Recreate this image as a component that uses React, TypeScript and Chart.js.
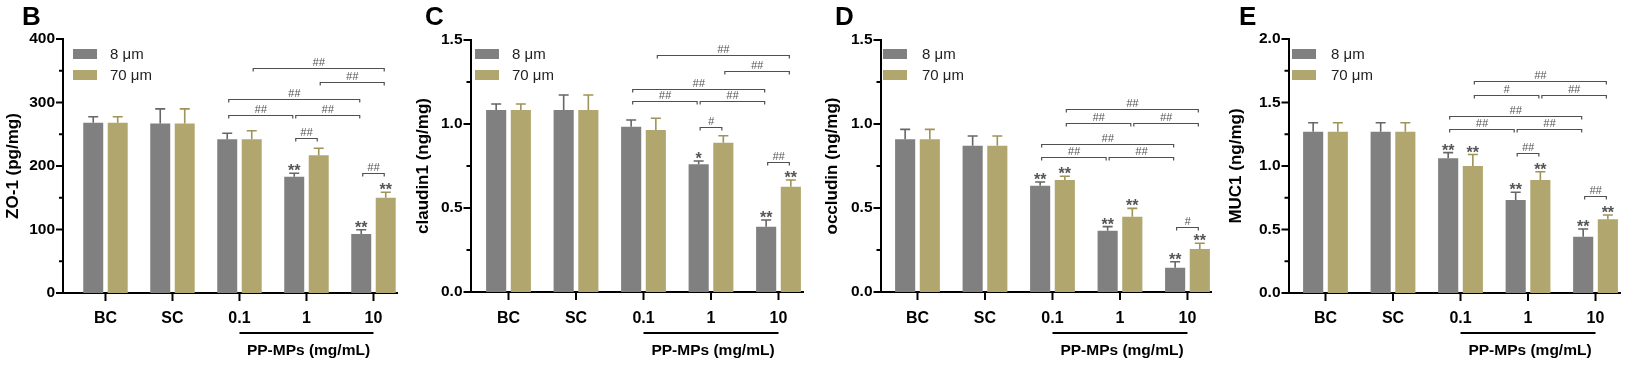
import React, { useEffect, useRef } from 'react';
import { Chart, registerables } from 'chart.js';

Chart.register(...registerables);
Chart.defaults.font.family = "'Liberation Sans', Arial, sans-serif";

// ---------- data ----------
const categories = ['BC', 'SC', '0.1', '1', '10'];
const seriesNames = ['8 μm', '70 μm'];
const groupTitle = 'PP-MPs (mg/mL)';

// Panel B – ZO-1 (pg/mg)
const zo1_8um = [268, 267, 242, 183, 93];
const zo1_8umErr = [9.6, 23, 9.5, 5.5, 6.5];
const zo1_70um = [268, 267, 242, 217, 150];
const zo1_70umErr = [9.6, 23, 13.6, 11, 8.6];
const zo1Stars8um = ['', '', '', '**', '**'];
const zo1Stars70um = ['', '', '', '', '**'];
// [categoryA, seriesA, categoryB, seriesB, level, label]
const zo1Brackets: [number, number, number, number, number, string][] = [
  [2, 1, 4, 1, 355, '##'],
  [3, 1, 4, 1, 333, '##'],
  [2, 0, 4, 0, 305.5, '##'],
  [2, 0, 3, 0, 281, '##'],
  [3, 0, 4, 0, 281, '##'],
  [3, 0, 3, 1, 243.6, '##'],
  [4, 0, 4, 1, 188.5, '##'],
];

// Panel C – claudin1 (ng/mg)
const cld_8um = [1.083, 1.083, 0.984, 0.76, 0.389];
const cld_8umErr = [0.036, 0.09, 0.04, 0.02, 0.04];
const cld_70um = [1.083, 1.083, 0.964, 0.889, 0.627];
const cld_70umErr = [0.036, 0.09, 0.07, 0.041, 0.04];
const cldStars8um = ['', '', '', '*', '**'];
const cldStars70um = ['', '', '', '', '**'];
const cldBrackets: [number, number, number, number, number, string][] = [
  [2, 1, 4, 1, 1.411, '##'],
  [3, 1, 4, 1, 1.315, '##'],
  [2, 0, 4, 0, 1.208, '##'],
  [2, 0, 3, 0, 1.137, '##'],
  [3, 0, 4, 0, 1.137, '##'],
  [3, 0, 3, 1, 0.984, '#'],
  [4, 0, 4, 1, 0.776, '##'],
];

// Panel D – occludin (ng/mg)
const occ_8um = [0.909, 0.871, 0.633, 0.365, 0.145];
const occ_8umErr = [0.059, 0.058, 0.022, 0.024, 0.035];
const occ_70um = [0.909, 0.871, 0.667, 0.448, 0.256];
const occ_70umErr = [0.059, 0.058, 0.022, 0.05, 0.034];
const occStars8um = ['', '', '**', '**', '**'];
const occStars70um = ['', '', '**', '**', '**'];
const occBrackets: [number, number, number, number, number, string][] = [
  [2, 1, 4, 1, 1.089, '##'],
  [2, 1, 3, 1, 1.008, '##'],
  [3, 1, 4, 1, 1.008, '##'],
  [2, 0, 4, 0, 0.881, '##'],
  [2, 0, 3, 0, 0.806, '##'],
  [3, 0, 4, 0, 0.806, '##'],
  [4, 0, 4, 1, 0.389, '#'],
];

// Panel E – MUC1 (ng/mg)
const muc_8um = [1.27, 1.27, 1.061, 0.732, 0.443];
const muc_8umErr = [0.071, 0.071, 0.044, 0.061, 0.061];
const muc_70um = [1.27, 1.27, 1.0, 0.89, 0.58];
const muc_70umErr = [0.071, 0.071, 0.09, 0.065, 0.034];
const mucStars8um = ['', '', '**', '**', '**'];
const mucStars70um = ['', '', '**', '**', '**'];
const mucBrackets: [number, number, number, number, number, string][] = [
  [2, 1, 4, 1, 1.669, '##'],
  [2, 1, 3, 1, 1.559, '#'],
  [3, 1, 4, 1, 1.559, '##'],
  [2, 0, 4, 0, 1.394, '##'],
  [2, 0, 3, 0, 1.291, '##'],
  [3, 0, 4, 0, 1.291, '##'],
  [3, 0, 3, 1, 1.105, '##'],
  [4, 0, 4, 1, 0.764, '##'],
];

// ---------- panels ----------
const panels = [
  { letter: 'B', yTitle: 'ZO-1 (pg/mg)', yMax: 400, yStep: 100, decimals: 0,
    values: [zo1_8um, zo1_70um], errs: [zo1_8umErr, zo1_70umErr], stars: [zo1Stars8um, zo1Stars70um], brackets: zo1Brackets },
  { letter: 'C', yTitle: 'claudin1 (ng/mg)', yMax: 1.5, yStep: 0.5, decimals: 1,
    values: [cld_8um, cld_70um], errs: [cld_8umErr, cld_70umErr], stars: [cldStars8um, cldStars70um], brackets: cldBrackets },
  { letter: 'D', yTitle: 'occludin (ng/mg)', yMax: 1.5, yStep: 0.5, decimals: 1,
    values: [occ_8um, occ_70um], errs: [occ_8umErr, occ_70umErr], stars: [occStars8um, occStars70um], brackets: occBrackets },
  { letter: 'E', yTitle: 'MUC1 (ng/mg)', yMax: 2.0, yStep: 0.5, decimals: 1,
    values: [muc_8um, muc_70um], errs: [muc_8umErr, muc_70umErr], stars: [mucStars8um, mucStars70um], brackets: mucBrackets },
];

// ---------- layout / style ----------
const H = 366;
const layouts = [
  { left: 0, width: 410, axisX: 63, endX: 397, top: 39, bottom: 293, titleX: 13, letterX: 22, legendX: 73, legendTextX: 110, xMin: -0.634, xMax: 4.351 },
  { left: 410, width: 410, axisX: 60.5, endX: 393, top: 40, bottom: 292, titleX: 13, letterX: 15, legendX: 65, legendTextX: 102, xMin: -0.563, xMax: 4.363 },
  { left: 820, width: 410, axisX: 60.5, endX: 391.5, top: 40, bottom: 292, titleX: 12, letterX: 15, legendX: 63, legendTextX: 102, xMin: -0.548, xMax: 4.356 },
  { left: 1224, width: 410, axisX: 64.5, endX: 396.5, top: 39, bottom: 293, titleX: 12, letterX: 15, legendX: 68, legendTextX: 107, xMin: -0.548, xMax: 4.37 },
];
const barColors = ['#808080', '#b0a66e'];
const errColors = ['#666666', '#9e9359'];
const FONT = "'Liberation Sans', Arial, sans-serif";

function makeExtras(p: any, L: any) {
  return {
    id: 'extras' + p.letter,
    afterDatasetsDraw(chart: any) {
      const ctx = chart.ctx;
      const ys = chart.scales.y;
      ctx.save();
      // error bars + stars
      for (let d = 0; d < 2; d++) {
        const meta = chart.getDatasetMeta(d);
        meta.data.forEach((bar: any, i: number) => {
          const v = p.values[d][i];
          const e = p.errs[d][i];
          const yTop = ys.getPixelForValue(v);
          const yCap = ys.getPixelForValue(v + e);
          ctx.strokeStyle = errColors[d];
          ctx.lineWidth = 1.6;
          ctx.beginPath();
          ctx.moveTo(bar.x, yTop);
          ctx.lineTo(bar.x, yCap);
          ctx.moveTo(bar.x - 5, yCap);
          ctx.lineTo(bar.x + 5, yCap);
          ctx.stroke();
          const s = p.stars[d][i];
          if (s) {
            ctx.fillStyle = '#555';
            ctx.font = `bold 16px ${FONT}`;
            ctx.textAlign = 'center';
            ctx.textBaseline = 'alphabetic';
            ctx.fillText(s, bar.x, yCap + 3);
          }
        });
      }
      // significance brackets
      p.brackets.forEach((b: any) => {
        const [ca, sa, cb, sb, level, label] = b;
        const xa = chart.getDatasetMeta(sa).data[ca].x + 1.5;
        const xb = chart.getDatasetMeta(sb).data[cb].x - 1.5;
        const y = Math.round(ys.getPixelForValue(level)) + 0.5;
        ctx.strokeStyle = '#505050';
        ctx.lineWidth = 1.2;
        ctx.beginPath();
        ctx.moveTo(xa, y + 3);
        ctx.lineTo(xa, y);
        ctx.lineTo(xb, y);
        ctx.lineTo(xb, y + 3);
        ctx.stroke();
        ctx.fillStyle = '#555';
        ctx.font = `italic 11px ${FONT}`;
        ctx.textAlign = 'center';
        ctx.textBaseline = 'alphabetic';
        ctx.fillText(label, (xa + xb) / 2, y - 2.2);
      });
      ctx.restore();
    },
    afterDraw(chart: any) {
      const ctx = chart.ctx;
      const ys = chart.scales.y;
      const xs = chart.scales.x;
      const area = chart.chartArea;
      ctx.save();
      ctx.strokeStyle = '#000';
      // y ticks (major + minor)
      ctx.lineWidth = 2;
      for (let v = 0; v <= p.yMax + 1e-9; v += p.yStep / 2) {
        const major = Math.abs(v / p.yStep - Math.round(v / p.yStep)) < 1e-6;
        const y = ys.getPixelForValue(v);
        ctx.beginPath();
        ctx.moveTo(area.left, y);
        ctx.lineTo(area.left - (major ? 7 : 4), y);
        ctx.stroke();
      }
      // x ticks + category labels
      ctx.fillStyle = '#000';
      ctx.font = `bold 16px ${FONT}`;
      ctx.textAlign = 'center';
      ctx.textBaseline = 'middle';
      categories.forEach((c, i) => {
        const x = xs.getPixelForValue(i);
        ctx.beginPath();
        ctx.moveTo(x, area.bottom);
        ctx.lineTo(x, area.bottom + 8);
        ctx.stroke();
        ctx.fillText(c, x, 318.5);
      });
      // group underline + title
      const x2 = xs.getPixelForValue(2);
      const x4 = xs.getPixelForValue(4);
      ctx.lineWidth = 2;
      ctx.beginPath();
      ctx.moveTo(x2, 333);
      ctx.lineTo(x4, 333);
      ctx.stroke();
      ctx.font = `bold 15.5px ${FONT}`;
      ctx.fillText(groupTitle, xs.getPixelForValue(3) + 2, 351);
      // y title
      ctx.save();
      ctx.translate(L.titleX, (area.top + area.bottom) / 2);
      ctx.rotate(-Math.PI / 2);
      ctx.font = `bold 17px ${FONT}`;
      ctx.textAlign = 'center';
      ctx.textBaseline = 'middle';
      ctx.fillText(p.yTitle, 0, 0);
      ctx.restore();
      // legend
      seriesNames.forEach((name, d) => {
        const yb = d === 0 ? 49 : 70;
        ctx.fillStyle = barColors[d];
        ctx.fillRect(L.legendX, yb, 24, 10);
        ctx.fillStyle = '#222';
        ctx.font = `15px ${FONT}`;
        ctx.textAlign = 'left';
        ctx.textBaseline = 'middle';
        ctx.fillText(name, L.legendTextX, yb + 5.5);
      });
      // panel letter
      ctx.fillStyle = '#000';
      ctx.font = `bold 26px ${FONT}`;
      ctx.textAlign = 'left';
      ctx.textBaseline = 'alphabetic';
      ctx.fillText(p.letter, L.letterX, 25);
      ctx.restore();
    },
  };
}

function Panel({ p, L }: { p: any; L: any }) {
  const ref = useRef<HTMLCanvasElement>(null);
  useEffect(() => {
    const chart = new Chart(ref.current as HTMLCanvasElement, {
      type: 'bar',
      data: {
        datasets: [0, 1].map((d) => ({
          label: seriesNames[d],
          data: p.values[d].map((v: number, i: number) => ({ x: i, y: v })),
          backgroundColor: barColors[d],
          borderWidth: 0,
          categoryPercentage: 0.731,
          barPercentage: 0.816,
        })),
      },
      options: {
        responsive: false,
        animation: false,
        devicePixelRatio: 1,
        layout: { padding: { left: 0, right: L.width - L.endX, top: L.top, bottom: 0 } },
        plugins: { legend: { display: false }, tooltip: { enabled: false } },
        scales: {
          x: {
            type: 'linear',
            offset: false,
            bounds: 'data',
            min: L.xMin,
            max: L.xMax,
            grid: { display: false, drawTicks: false, offset: false },
            border: { display: true, color: '#000', width: 2 },
            ticks: { display: false },
            afterBuildTicks: (s: any) => {
              s.ticks = categories.map((_, i) => ({ value: i }));
            },
            afterFit: (s: any) => {
              s.height = H - L.bottom;
            },
          },
          y: {
            min: 0,
            max: p.yMax,
            grid: { display: false, drawTicks: false },
            border: { display: true, color: '#000', width: 2 },
            ticks: {
              stepSize: p.yStep,
              padding: 8,
              color: '#000',
              font: { size: 15.5, weight: 'bold' },
              callback: (v: any) => Number(v).toFixed(p.decimals),
            },
            afterFit: (s: any) => {
              s.width = L.axisX;
            },
          },
        },
      } as any,
      plugins: [makeExtras(p, L)],
    });
    return () => chart.destroy();
  }, []);
  return (
    <canvas
      ref={ref}
      width={L.width}
      height={H}
      style={{ position: 'absolute', left: L.left, top: 0, width: L.width, height: H }}
    />
  );
}

export default function App() {
  return (
    <div style={{ position: 'fixed', left: 0, top: 0, width: 1634, height: H, background: '#fff', overflow: 'hidden' }}>
      {panels.map((p, i) => (
        <Panel key={p.letter} p={p} L={layouts[i]} />
      ))}
    </div>
  );
}
